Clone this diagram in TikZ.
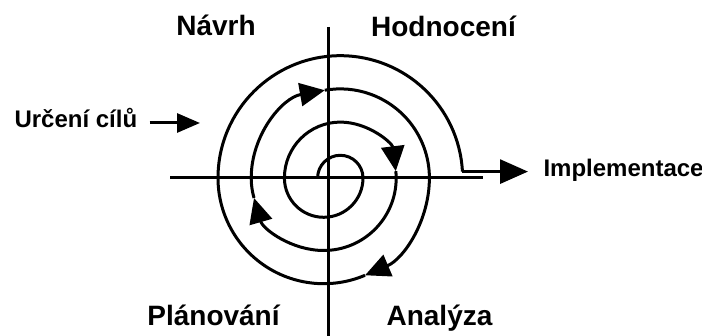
\documentclass[tikz,border=0pt]{standalone}
\usepackage{fontspec}
\setmainfont{Liberation Sans}
\usetikzlibrary{arrows.meta}

\begin{document}
\begin{tikzpicture}[x=0.5pt,y=0.5pt,line width=1.5pt,
  head/.style={-{Triangle[length=12.5pt,width=11.5pt]}},
  phase/.style={font=\fontsize{14}{16}\selectfont\bfseries,inner sep=0pt,anchor=base},
  side/.style={font=\fontsize{12}{14}\selectfont\bfseries,inner sep=0pt,anchor=base west}]
\useasboundingbox (0,0) rectangle (702,336);
\draw (170,158) -- (483,158);
\draw (328,309) -- (328,0);
\draw[head] (317.6,158) arc[start angle=180,end angle=0,radius=22.7] arc[start angle=0,end angle=-180,radius=39.3] arc[start angle=180,end angle=7,radius=55.9] coordinate (t1);
\draw[head] (t1) arc[start angle=7,end angle=0,radius=55.9] arc[start angle=0,end angle=-164,radius=72.5] coordinate (t2);
\draw[head] (t2) arc[start angle=-164,end angle=-180,radius=72.5] arc[start angle=180,end angle=100,radius=89.1] coordinate (t3);
\draw[head] (t3) arc[start angle=100,end angle=0,radius=89.1] arc[start angle=0,end angle=-67,radius=105.7] coordinate (t4);
\draw (t4) arc[start angle=-67,end angle=-180,radius=105.7] arc[start angle=180,end angle=3,radius=122.3] coordinate (spiralend);
\node[phase] (navrh) at (216,300) {Návrh};
\node[phase] (hodnoceni) at (443.5,299) {Hodnocení};
\node[phase] (planovani) at (213.5,10) {Plánování};
\node[phase] (analyza) at (439.5,10) {Analýza};
\node[side] (cile) at (13,208) {Určení cílů};
\node[side] (impl) at (542,159) {Implementace};
\coordinate (cilehrot) at (200,213);
\draw[-{Triangle[length=11.5pt,width=9.5pt]}] ([xshift=5.5pt]cile.east |- cilehrot) -- (cilehrot);
\draw[-{Triangle[length=14pt,width=12pt]}] (spiralend) -- ([xshift=-7pt]impl.west |- spiralend);
\end{tikzpicture}
\end{document}
